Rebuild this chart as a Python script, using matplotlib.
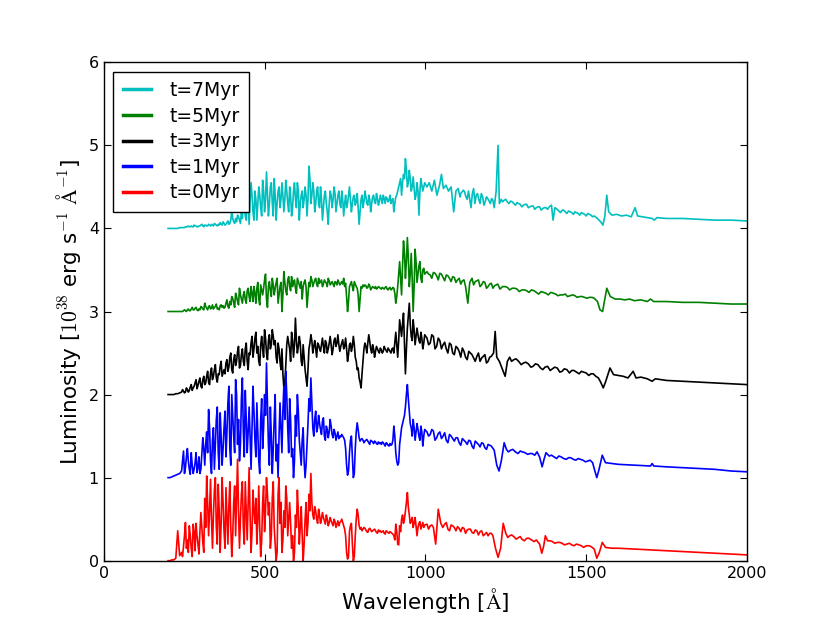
import numpy as np
import matplotlib
matplotlib.use("Agg")
import matplotlib.pyplot as plt

plt.rcParams['font.family'] = ['DejaVu Sans']
plt.rcParams['mathtext.fontset'] = 'cm'
plt.rcParams['xtick.direction'] = 'in'
plt.rcParams['ytick.direction'] = 'in'
plt.rcParams['xtick.top'] = True
plt.rcParams['ytick.right'] = True

# wavelength grids for the noisy far-UV part (Angstrom)
wave_uv = [200, 206, 212, 218, 224, 230, 236, 242, 248, 254,
           260, 266, 272, 278, 284, 290, 296, 302, 308, 314,
           320, 326, 332, 338, 344, 350, 356, 362, 368, 374,
           380, 386, 392, 398, 404, 410, 416, 422, 428, 434,
           440, 446, 452, 458, 464, 470, 476, 482, 488, 494,
           500, 506, 512, 518, 524, 530, 536, 542, 548, 554,
           560, 566, 572, 578, 584, 590, 596, 602, 608, 614,
           620, 626, 632, 638, 644, 650, 656, 662, 668, 674,
           680, 686, 692, 698, 704, 710, 716, 722, 728, 734,
           740, 746, 752, 758, 764, 770, 776, 782, 788, 794,
           800, 806, 812, 818, 824, 830, 836, 842, 848, 854,
           860, 866, 872, 878, 884, 890, 896, 902, 908, 914,
           920, 926, 932, 938, 944, 950, 956, 962, 968, 974,
           980, 986, 992, 998]

wave_mid = [245, 251, 257, 263, 269, 275, 281, 287, 293, 299,
            305, 311, 317, 323, 329, 335, 341, 347, 353, 359,
            365, 371, 377, 383, 389, 395, 401, 407, 413, 419,
            425, 431, 437, 443, 449, 455, 461, 467, 473, 479,
            485, 491, 497, 503, 509, 515, 521, 527, 533, 539,
            545, 551, 557, 563, 569, 575, 581, 587, 593, 599,
            605, 611, 617, 623, 629, 635, 641, 647, 653, 659,
            665, 671, 677, 683, 689, 695, 701, 707, 713, 719,
            725, 731, 737, 743, 749, 755, 761, 767, 773, 779,
            785, 791, 797, 803, 809, 815, 821, 827, 833, 839,
            845, 851, 857, 863, 869, 875, 881, 887, 893, 899,
            905, 911, 917, 923, 929, 935, 941, 947, 953, 959,
            965, 971, 977, 983, 989, 995]

# luminosity [1e38 erg/s/A], t=0 Myr
lum0_uv = [0.00, 0.00, 0.01, 0.01, 0.03, 0.36, 0.06, 0.10, 0.18, 0.46,
           0.25, 0.42, 0.15, 0.44, 0.12, 0.30, 0.08, 0.58, 0.22, 0.75,
           1.02, 0.30, 0.98, 0.15, 0.85, 0.40, 0.92, 0.10, 1.00, 0.35,
           0.88, 0.20, 0.95, 0.05, 0.70, 0.30, 1.22, 0.15, 0.80, 0.40,
           0.95, 0.25, 1.12, 0.10, 0.85, 0.45, 0.20, 0.90, 0.05, 0.70,
           0.35, 1.00, 0.55, 0.15, 0.75, 0.40, 0.00, 0.80, 0.45, 0.10,
           0.60, 0.90, 0.30, 0.70, 0.15, 0.00, 0.55, 0.85, 0.20, 0.65,
           0.00, 0.50, 0.30, 0.80, 1.05, 0.55, 0.65, 0.50, 0.62, 0.45,
           0.58, 0.48, 0.55, 0.42, 0.52, 0.45, 0.50, 0.40, 0.48, 0.46,
           0.50, 0.42, 0.30, 0.02, 0.35, 0.45, 0.00, 0.30, 0.62, 0.42,
           0.40, 0.38, 0.39, 0.35, 0.38, 0.37, 0.36, 0.38, 0.34, 0.37,
           0.36, 0.35, 0.33, 0.36, 0.34, 0.35, 0.33, 0.30, 0.44, 0.20,
           0.42, 0.50, 0.45, 0.60, 0.82, 0.55, 0.48, 0.40, 0.52, 0.30,
           0.45, 0.38, 0.46, 0.43]
lum0_mid = [0.05, 0.30, 0.15, 0.10, 0.30, 0.05, 0.35, 0.45, 0.20, 0.35,
            0.40, 0.10, 0.40, 0.70, 0.60, 0.50, 0.55, 1.00, 0.20, 0.60,
            0.45, 0.70, 0.15, 0.55, 0.65, 0.40, 0.30, 0.90, 0.75, 0.60,
            0.50, 0.95, 0.20, 0.60, 0.70, 0.55, 0.35, 0.60, 0.75, 0.50,
            0.40, 0.25, 0.90, 0.60, 0.80, 0.70, 0.30, 0.95, 0.20, 0.10,
            1.00, 0.70, 0.25, 0.40, 0.75, 0.50, 0.45, 0.30, 0.10, 0.40,
            0.60, 0.40, 0.30, 0.20, 0.70, 0.45, 0.60, 0.70, 0.50, 0.60,
            0.45, 0.55, 0.50, 0.52, 0.44, 0.50, 0.46, 0.48, 0.42, 0.47,
            0.44, 0.42, 0.47, 0.46, 0.38, 0.10, 0.05, 0.42, 0.20, 0.05,
            0.50, 0.55, 0.38, 0.36, 0.40, 0.37, 0.34, 0.39, 0.35, 0.37,
            0.36, 0.33, 0.35, 0.34, 0.36, 0.32, 0.35, 0.33, 0.34, 0.32,
            0.25, 0.35, 0.19, 0.35, 0.55, 0.50, 0.70, 0.65, 0.45, 0.52,
            0.45, 0.42, 0.40, 0.47, 0.42, 0.40]
lum0_tail = [(1005, 0.44), (1015, 0.42), (1025, 0.40), (1032, 0.20), (1040, 0.62),
             (1048, 0.45), (1060, 0.44), (1070, 0.38), (1080, 0.43), (1090, 0.40),
             (1100, 0.41), (1110, 0.35), (1120, 0.39), (1130, 0.37), (1140, 0.38),
             (1150, 0.33), (1160, 0.36), (1170, 0.35), (1180, 0.30), (1190, 0.34),
             (1200, 0.33), (1210, 0.30), (1218, 0.15), (1226, 0.04), (1234, 0.15),
             (1242, 0.45), (1250, 0.33), (1262, 0.30), (1275, 0.29), (1290, 0.28),
             (1300, 0.26), (1315, 0.27), (1330, 0.25), (1345, 0.25), (1355, 0.20),
             (1362, 0.09), (1368, 0.18), (1373, 0.30), (1380, 0.24), (1395, 0.23),
             (1410, 0.22), (1425, 0.21), (1440, 0.20), (1455, 0.19), (1470, 0.20),
             (1485, 0.18), (1500, 0.18), (1515, 0.17), (1525, 0.14), (1533, 0.03),
             (1541, 0.10), (1550, 0.22), (1560, 0.16), (1580, 0.15), (1600, 0.15),
             (1650, 0.14), (1700, 0.13), (1750, 0.12), (1800, 0.11), (1850, 0.10),
             (1900, 0.09), (1950, 0.08), (2000, 0.07),
             (1010, 0.38), (1020, 0.43), (1054, 0.40), (1065, 0.46), (1075, 0.36),
             (1085, 0.42), (1095, 0.36), (1105, 0.39), (1115, 0.40), (1125, 0.33),
             (1135, 0.38), (1145, 0.34), (1155, 0.37), (1165, 0.31), (1175, 0.36),
             (1185, 0.32), (1195, 0.30), (1205, 0.33), (1256, 0.28), (1268, 0.31),
             (1282, 0.26), (1295, 0.29), (1308, 0.24), (1322, 0.27), (1338, 0.23),
             (1388, 0.24), (1402, 0.21), (1418, 0.22), (1432, 0.19), (1448, 0.21),
             (1462, 0.18), (1478, 0.19), (1492, 0.16), (1508, 0.18)]

# t=1 Myr
lum1_uv = [0.00, 0.00, 0.01, 0.02, 0.03, 0.04, 0.05, 0.08, 0.32, 0.12,
           0.35, 0.10, 0.30, 0.05, 0.18, 0.06, 0.25, 0.10, 0.48, 0.15,
           0.55, 0.82, 0.20, 0.45, 0.10, 0.70, 0.30, 0.78, 0.15, 0.60,
           0.25, 0.90, 0.35, 1.00, 0.50, 1.18, 0.40, 0.20, 0.95, 0.55,
           1.05, 0.30, 0.85, 0.10, 1.10, 0.45, 0.90, 0.20, 0.70, 0.35,
           1.00, 1.38, 0.40, 0.85, 0.05, 0.70, 0.20, 0.00, 0.90, 0.30,
           1.10, 1.28, 0.60, 0.95, 0.25, 0.00, 0.75, 1.00, 0.45, 0.15,
           0.60, 0.00, 0.40, 0.95, 1.20, 0.60, 0.70, 0.55, 0.75, 0.58,
           0.68, 0.50, 0.62, 0.48, 0.70, 0.52, 0.58, 0.45, 0.55, 0.50,
           0.52, 0.48, 0.35, 0.03, 0.30, 0.50, 0.00, 0.35, 0.66, 0.48,
           0.46, 0.45, 0.44, 0.46, 0.42, 0.45, 0.43, 0.44, 0.41, 0.43,
           0.42, 0.43, 0.40, 0.42, 0.39, 0.41, 0.40, 0.62, 0.30, 0.15,
           0.40, 0.60, 0.70, 0.85, 1.12, 0.80, 0.60, 0.70, 0.45, 0.65,
           0.50, 0.62, 0.38, 0.58]
lum1_mid = [0.20, 0.05, 0.25, 0.20, 0.04, 0.15, 0.10, 0.30, 0.12, 0.05,
            0.30, 0.35, 0.40, 0.30, 0.60, 0.05, 0.60, 0.40, 0.85, 0.10,
            0.50, 0.35, 0.80, 0.55, 1.10, 0.15, 0.75, 0.30, 1.00, 0.70,
            0.40, 1.20, 0.25, 0.70, 0.55, 0.50, 0.60, 0.80, 0.25, 0.55,
            0.05, 0.95, 0.60, 0.75, 0.90, 0.15, 0.50, 0.35, 1.00, 0.40,
            0.50, 0.60, 0.80, 0.70, 1.00, 0.30, 0.70, 0.35, 0.20, 0.50,
            0.80, 0.30, 0.45, 0.20, 0.15, 0.65, 0.80, 0.90, 0.50, 0.80,
            0.60, 0.65, 0.52, 0.72, 0.45, 0.58, 0.55, 0.62, 0.48, 0.54,
            0.50, 0.47, 0.49, 0.50, 0.45, 0.15, 0.08, 0.45, 0.25, 0.05,
            0.55, 0.58, 0.44, 0.47, 0.42, 0.45, 0.44, 0.40, 0.44, 0.41,
            0.43, 0.40, 0.41, 0.40, 0.42, 0.38, 0.41, 0.38, 0.39, 0.45,
            0.50, 0.20, 0.18, 0.50, 0.65, 0.75, 1.00, 0.95, 0.65, 0.50,
            0.60, 0.55, 0.58, 0.45, 0.55, 0.50]
lum1_tail = [(1005, 0.55), (1015, 0.52), (1025, 0.56), (1035, 0.48), (1045, 0.55),
             (1055, 0.50), (1065, 0.45), (1075, 0.52), (1085, 0.47), (1095, 0.48),
             (1105, 0.42), (1115, 0.47), (1125, 0.43), (1135, 0.45), (1145, 0.38),
             (1155, 0.44), (1165, 0.40), (1175, 0.42), (1185, 0.36), (1195, 0.40),
             (1205, 0.38), (1214, 0.33), (1222, 0.15), (1229, 0.08), (1236, 0.20),
             (1245, 0.42), (1252, 0.34), (1265, 0.33), (1280, 0.31), (1295, 0.32),
             (1310, 0.30), (1325, 0.29), (1340, 0.27), (1347, 0.31), (1355, 0.25),
             (1363, 0.13), (1369, 0.22), (1375, 0.30), (1385, 0.26), (1400, 0.25),
             (1415, 0.26), (1430, 0.23), (1445, 0.24), (1460, 0.22), (1475, 0.23),
             (1490, 0.21), (1505, 0.20), (1520, 0.18), (1527, 0.08), (1533, 0.00),
             (1540, 0.10), (1550, 0.27), (1560, 0.18), (1580, 0.17), (1600, 0.16),
             (1650, 0.15), (1700, 0.14), (1705, 0.17), (1710, 0.14), (1750, 0.13),
             (1800, 0.12), (1850, 0.11), (1900, 0.10), (1950, 0.08), (2000, 0.07),
             (1010, 0.50), (1020, 0.58), (1030, 0.45), (1040, 0.53), (1050, 0.47),
             (1060, 0.54), (1070, 0.42), (1080, 0.50), (1090, 0.44), (1100, 0.48),
             (1110, 0.39), (1120, 0.45), (1130, 0.40), (1140, 0.44), (1150, 0.35),
             (1160, 0.42), (1170, 0.37), (1180, 0.41), (1190, 0.34), (1200, 0.39),
             (1258, 0.31), (1272, 0.34), (1288, 0.29), (1302, 0.31), (1318, 0.28),
             (1332, 0.29), (1392, 0.27), (1408, 0.23), (1422, 0.25), (1438, 0.22),
             (1452, 0.24), (1468, 0.21), (1482, 0.22), (1498, 0.19), (1512, 0.21)]

# t=3 Myr
lum3_uv = [0.00, 0.00, 0.00, 0.00, 0.01, 0.01, 0.02, 0.03, 0.04, 0.03,
           0.06, 0.05, 0.12, 0.08, 0.14, 0.07, 0.16, 0.10, 0.18, 0.12,
           0.22, 0.15, 0.26, 0.18, 0.30, 0.20, 0.25, 0.34, 0.22, 0.30,
           0.38, 0.28, 0.45, 0.30, 0.42, 0.35, 0.52, 0.32, 0.48, 0.40,
           0.55, 0.40, 0.50, 0.62, 0.45, 0.68, 0.50, 0.40, 0.60, 0.55,
           0.78, 0.50, 0.65, 0.55, 0.78, 0.60, 0.45, 0.62, 0.40, 0.55,
           0.08, 0.35, 0.70, 0.55, 0.75, 0.45, 0.92, 0.50, 0.70, 0.40,
           0.60, 0.30, 0.10, 0.55, 0.72, 0.50, 0.65, 0.45, 0.60, 0.52,
           0.68, 0.50, 0.62, 0.55, 0.70, 0.48, 0.65, 0.58, 0.72, 0.52,
           0.62, 0.55, 0.68, 0.40, 0.60, 0.52, 0.70, 0.45, 0.30, 0.20,
           0.08, 0.40, 0.62, 0.50, 0.72, 0.55, 0.60, 0.45, 0.58, 0.52,
           0.56, 0.50, 0.58, 0.53, 0.56, 0.52, 0.55, 0.50, 0.75, 0.45,
           0.90, 0.70, 0.98, 0.25, 0.80, 1.10, 0.70, 0.90, 0.60, 0.80,
           0.65, 0.75, 0.55, 0.72]
lum3_mid = [0.06, 0.02, 0.08, 0.03, 0.09, 0.05, 0.10, 0.18, 0.11, 0.20,
            0.08, 0.22, 0.14, 0.28, 0.12, 0.32, 0.22, 0.36, 0.15, 0.24,
            0.40, 0.26, 0.25, 0.42, 0.33, 0.50, 0.26, 0.48, 0.40, 0.58,
            0.35, 0.55, 0.35, 0.62, 0.30, 0.48, 0.70, 0.55, 0.75, 0.58,
            0.35, 0.70, 0.45, 0.68, 0.42, 0.72, 0.60, 0.70, 0.65, 0.38,
            0.55, 0.30, 0.25, 0.15, 0.60, 0.62, 0.40, 0.65, 0.60, 0.65,
            0.58, 0.62, 0.35, 0.45, 0.20, 0.30, 0.62, 0.65, 0.58, 0.55,
            0.62, 0.55, 0.60, 0.58, 0.65, 0.50, 0.62, 0.60, 0.55, 0.68,
            0.62, 0.60, 0.58, 0.66, 0.58, 0.55, 0.48, 0.62, 0.58, 0.60,
            0.40, 0.32, 0.15, 0.25, 0.55, 0.58, 0.62, 0.64, 0.50, 0.55,
            0.52, 0.55, 0.50, 0.54, 0.52, 0.55, 0.51, 0.54, 0.50, 0.56,
            0.62, 0.60, 0.65, 0.80, 0.85, 0.60, 0.55, 0.95, 0.85, 0.65,
            0.78, 0.70, 0.72, 0.62, 0.68, 0.62]
lum3_tail = [(1005, 0.68), (1015, 0.62), (1025, 0.70), (1035, 0.58), (1045, 0.65),
             (1055, 0.60), (1065, 0.55), (1075, 0.62), (1085, 0.50), (1095, 0.58),
             (1105, 0.52), (1115, 0.56), (1125, 0.45), (1135, 0.52), (1145, 0.48),
             (1155, 0.40), (1165, 0.50), (1175, 0.44), (1185, 0.48), (1195, 0.40),
             (1205, 0.46), (1212, 0.50), (1217, 0.76), (1222, 0.45), (1230, 0.40),
             (1240, 0.30), (1248, 0.22), (1255, 0.40), (1262, 0.45), (1275, 0.42),
             (1290, 0.40), (1305, 0.38), (1320, 0.37), (1335, 0.34), (1350, 0.36),
             (1365, 0.30), (1380, 0.34), (1395, 0.31), (1410, 0.32), (1425, 0.28),
             (1440, 0.30), (1455, 0.29), (1470, 0.27), (1485, 0.28), (1500, 0.26),
             (1515, 0.25), (1530, 0.22), (1545, 0.15), (1553, 0.08), (1560, 0.15),
             (1574, 0.32), (1585, 0.24), (1600, 0.23), (1615, 0.22), (1630, 0.20),
             (1646, 0.28), (1655, 0.20), (1670, 0.21), (1690, 0.19), (1705, 0.16),
             (1715, 0.19), (1750, 0.17), (1800, 0.16), (1850, 0.15), (1900, 0.14),
             (1950, 0.13), (2000, 0.12),
             (1010, 0.60), (1020, 0.72), (1030, 0.55), (1040, 0.68), (1050, 0.55),
             (1060, 0.63), (1070, 0.50), (1080, 0.60), (1090, 0.48), (1100, 0.56),
             (1110, 0.45), (1120, 0.52), (1130, 0.42), (1140, 0.50), (1150, 0.44),
             (1160, 0.46), (1170, 0.40), (1180, 0.46), (1190, 0.38), (1200, 0.45),
             (1268, 0.40), (1282, 0.43), (1298, 0.36), (1312, 0.39), (1328, 0.33),
             (1342, 0.37), (1358, 0.32), (1372, 0.33), (1388, 0.29), (1402, 0.33),
             (1418, 0.27), (1432, 0.31), (1448, 0.26), (1462, 0.29), (1478, 0.25),
             (1492, 0.27), (1508, 0.23), (1522, 0.25), (1538, 0.20)]

# t=5 Myr
lum5_uv = [0.00, 0.00, 0.00, 0.00, 0.00, 0.00, 0.00, 0.00, 0.01, 0.01,
           0.02, 0.01, 0.03, 0.02, 0.04, 0.02, 0.03, 0.06, 0.03, 0.10,
           0.04, 0.06, 0.03, 0.08, 0.05, 0.09, 0.04, 0.07, 0.05, 0.04,
           0.10, 0.06, 0.12, 0.18, 0.10, 0.22, 0.12, 0.28, 0.15, 0.20,
           0.14, 0.25, 0.18, 0.30, 0.12, 0.22, 0.28, 0.15, 0.32, 0.20,
           0.38, 0.15, 0.30, 0.25, 0.40, 0.20, 0.35, 0.10, 0.30, 0.00,
           0.48, 0.25, 0.38, 0.30, 0.42, 0.35, 0.28, 0.40, 0.32, 0.36,
           0.30, 0.38, 0.05, 0.35, 0.42, 0.30, 0.38, 0.33, 0.40, 0.36,
           0.30, 0.38, 0.34, 0.40, 0.32, 0.36, 0.30, 0.35, 0.38, 0.32,
           0.36, 0.40, 0.34, 0.00, 0.30, 0.36, 0.25, 0.33, 0.28, 0.00,
           0.30, 0.32, 0.32, 0.28, 0.33, 0.26, 0.30, 0.28, 0.27, 0.30,
           0.28, 0.29, 0.27, 0.30, 0.26, 0.29, 0.27, 0.28, 0.10, 0.30,
           0.60, 0.20, 0.85, 0.40, 0.89, 0.30, 0.70, 0.00, 0.75, 0.35,
           0.55, 0.40, 0.50, 0.45]
lum5_mid = [0.00, 0.02, 0.00, 0.03, 0.01, 0.05, 0.02, 0.05, 0.01, 0.02,
            0.05, 0.02, 0.06, 0.02, 0.07, 0.04, 0.03, 0.06, 0.03, 0.02,
            0.08, 0.07, 0.05, 0.14, 0.04, 0.08, 0.16, 0.05, 0.18, 0.08,
            0.20, 0.10, 0.24, 0.10, 0.28, 0.12, 0.22, 0.30, 0.10, 0.35,
            0.08, 0.26, 0.28, 0.45, 0.05, 0.36, 0.18, 0.32, 0.28, 0.40,
            0.20, 0.35, 0.20, 0.35, 0.20, 0.42, 0.25, 0.30, 0.38, 0.22,
            0.36, 0.28, 0.15, 0.35, 0.30, 0.20, 0.30, 0.38, 0.34, 0.40,
            0.30, 0.34, 0.38, 0.33, 0.36, 0.30, 0.37, 0.34, 0.33, 0.36,
            0.32, 0.35, 0.34, 0.33, 0.30, 0.18, 0.12, 0.33, 0.30, 0.36,
            0.30, 0.20, 0.15, 0.28, 0.30, 0.31, 0.29, 0.31, 0.28, 0.29,
            0.30, 0.28, 0.29, 0.27, 0.28, 0.29, 0.27, 0.28, 0.26, 0.29,
            0.22, 0.18, 0.45, 0.40, 0.55, 0.70, 0.60, 0.65, 0.45, 0.40,
            0.30, 0.60, 0.45, 0.60, 0.35, 0.52]
lum5_tail = [(1005, 0.48), (1015, 0.44), (1025, 0.47), (1035, 0.43), (1045, 0.46),
             (1055, 0.41), (1065, 0.44), (1075, 0.40), (1085, 0.42), (1095, 0.35),
             (1105, 0.40), (1115, 0.37), (1125, 0.30), (1132, 0.10), (1138, 0.35),
             (1145, 0.40), (1155, 0.36), (1165, 0.38), (1175, 0.32), (1185, 0.35),
             (1195, 0.30), (1205, 0.34), (1215, 0.31), (1225, 0.33), (1240, 0.30),
             (1255, 0.29), (1270, 0.28), (1285, 0.27), (1300, 0.26), (1315, 0.25),
             (1330, 0.26), (1345, 0.23), (1360, 0.24), (1375, 0.22), (1390, 0.23),
             (1405, 0.21), (1420, 0.20), (1435, 0.21), (1450, 0.19), (1465, 0.19),
             (1480, 0.18), (1495, 0.17), (1510, 0.17), (1525, 0.16), (1535, 0.12),
             (1543, 0.02), (1551, 0.00), (1558, 0.15), (1564, 0.28), (1575, 0.18),
             (1590, 0.15), (1605, 0.15), (1620, 0.14), (1635, 0.15), (1650, 0.13),
             (1670, 0.14), (1690, 0.12), (1700, 0.15), (1710, 0.12), (1750, 0.12),
             (1800, 0.11), (1850, 0.11), (1900, 0.10), (1950, 0.09), (2000, 0.09),
             (1010, 0.45), (1020, 0.40), (1030, 0.46), (1040, 0.38), (1050, 0.45),
             (1060, 0.37), (1070, 0.43), (1080, 0.36), (1090, 0.41), (1100, 0.38),
             (1110, 0.33), (1120, 0.38), (1150, 0.32), (1160, 0.37), (1170, 0.30),
             (1180, 0.36), (1190, 0.28), (1200, 0.33), (1210, 0.28), (1220, 0.32),
             (1232, 0.27), (1248, 0.30), (1262, 0.26), (1278, 0.28), (1292, 0.24),
             (1308, 0.26), (1322, 0.23), (1338, 0.25), (1352, 0.21), (1368, 0.23),
             (1382, 0.20), (1398, 0.22), (1412, 0.19), (1428, 0.20), (1442, 0.18),
             (1458, 0.20), (1472, 0.17), (1488, 0.18), (1502, 0.16), (1518, 0.17)]

# t=7 Myr
lum7_uv = [0.00, 0.00, 0.00, 0.00, 0.00, 0.00, 0.01, 0.01, 0.01, 0.02,
           0.02, 0.02, 0.03, 0.02, 0.03, 0.02, 0.03, 0.04, 0.03, 0.04,
           0.03, 0.05, 0.03, 0.04, 0.06, 0.04, 0.05, 0.07, 0.04, 0.06,
           0.05, 0.09, 0.06, 0.22, 0.08, 0.12, 0.16, 0.10, 0.20, 0.35,
           0.15, 0.42, 0.05, 0.55, 0.20, 0.45, 0.10, 0.50, 0.25, 0.58,
           0.20, 0.68, 0.15, 0.50, 0.30, 0.60, 0.10, 0.45, 0.25, 0.55,
           0.20, 0.58, 0.30, 0.50, 0.15, 0.45, 0.35, 0.55, 0.10, 0.40,
           0.25, 0.50, 0.15, 0.75, 0.30, 0.55, 0.20, 0.45, 0.30, 0.50,
           0.10, 0.40, 0.30, 0.05, 0.45, 0.25, 0.50, 0.20, 0.40, 0.30,
           0.45, 0.15, 0.40, 0.30, 0.50, 0.20, 0.38, 0.28, 0.42, 0.05,
           0.35, 0.25, 0.45, 0.30, 0.40, 0.20, 0.38, 0.32, 0.42, 0.28,
           0.40, 0.30, 0.36, 0.38, 0.32, 0.40, 0.34, 0.20, 0.38, 0.45,
           0.55, 0.40, 0.65, 0.84, 0.50, 0.70, 0.45, 0.62, 0.35, 0.55,
           0.16, 0.60, 0.45, 0.55]
lum7_mid = [0.01, 0.01, 0.02, 0.03, 0.02, 0.02, 0.04, 0.03, 0.02, 0.03,
            0.05, 0.02, 0.04, 0.03, 0.04, 0.05, 0.03, 0.05, 0.03, 0.04,
            0.05, 0.08, 0.04, 0.07, 0.05, 0.10, 0.12, 0.06, 0.08, 0.14,
            0.06, 0.12, 0.28, 0.10, 0.30, 0.35, 0.40, 0.10, 0.35, 0.30,
            0.40, 0.15, 0.45, 0.35, 0.40, 0.30, 0.55, 0.15, 0.40, 0.30,
            0.50, 0.35, 0.40, 0.35, 0.45, 0.20, 0.40, 0.25, 0.55, 0.25,
            0.45, 0.30, 0.45, 0.35, 0.40, 0.35, 0.60, 0.40, 0.45, 0.30,
            0.50, 0.25, 0.35, 0.25, 0.45, 0.20, 0.30, 0.40, 0.35, 0.42,
            0.30, 0.45, 0.25, 0.35, 0.30, 0.25, 0.40, 0.35, 0.30, 0.40,
            0.32, 0.25, 0.20, 0.40, 0.32, 0.38, 0.28, 0.35, 0.30, 0.40,
            0.30, 0.36, 0.33, 0.35, 0.40, 0.30, 0.36, 0.34, 0.30, 0.36,
            0.30, 0.40, 0.50, 0.60, 0.55, 0.60, 0.70, 0.55, 0.60, 0.50,
            0.48, 0.40, 0.45, 0.45, 0.52, 0.50]
lum7_tail = [(1005, 0.50), (1012, 0.55), (1020, 0.45), (1028, 0.58), (1036, 0.40),
             (1044, 0.52), (1050, 0.65), (1056, 0.48), (1064, 0.52), (1072, 0.45),
             (1080, 0.50), (1088, 0.20), (1095, 0.45), (1102, 0.48), (1110, 0.42),
             (1118, 0.46), (1126, 0.38), (1134, 0.45), (1142, 0.25), (1150, 0.48),
             (1158, 0.40), (1166, 0.35), (1174, 0.42), (1182, 0.28), (1190, 0.38),
             (1198, 0.33), (1206, 0.36), (1214, 0.25), (1220, 0.45), (1226, 1.00),
             (1230, 0.30), (1236, 0.35), (1245, 0.34), (1255, 0.32), (1265, 0.33),
             (1275, 0.30), (1285, 0.31), (1295, 0.29), (1305, 0.28), (1315, 0.29),
             (1325, 0.26), (1335, 0.27), (1345, 0.25), (1355, 0.26), (1365, 0.24),
             (1375, 0.25), (1385, 0.26), (1392, 0.28), (1397, 0.10), (1403, 0.25),
             (1415, 0.21), (1425, 0.22), (1435, 0.20), (1445, 0.21), (1455, 0.19),
             (1465, 0.20), (1475, 0.18), (1485, 0.19), (1495, 0.17), (1505, 0.18),
             (1515, 0.16), (1525, 0.15), (1535, 0.12), (1545, 0.08), (1552, 0.04),
             (1558, 0.15), (1564, 0.40), (1570, 0.20), (1580, 0.16), (1595, 0.17),
             (1610, 0.15), (1625, 0.16), (1640, 0.14), (1652, 0.25), (1660, 0.15),
             (1675, 0.14), (1690, 0.13), (1705, 0.12), (1712, 0.10), (1720, 0.13),
             (1750, 0.12), (1800, 0.12), (1850, 0.11), (1900, 0.10), (1950, 0.10),
             (2000, 0.09),
             (1108, 0.38), (1122, 0.44), (1130, 0.35), (1146, 0.42), (1154, 0.30),
             (1162, 0.42), (1170, 0.30), (1178, 0.38), (1186, 0.32), (1194, 0.36),
             (1202, 0.30), (1210, 0.34), (1240, 0.32), (1250, 0.35), (1260, 0.30),
             (1270, 0.32), (1280, 0.28), (1290, 0.30), (1300, 0.26), (1310, 0.29),
             (1320, 0.25), (1330, 0.27), (1340, 0.23), (1350, 0.26), (1360, 0.22),
             (1370, 0.25), (1380, 0.23), (1410, 0.23), (1420, 0.19), (1430, 0.22),
             (1440, 0.18), (1450, 0.20), (1460, 0.17), (1470, 0.19), (1480, 0.16),
             (1490, 0.18), (1500, 0.15), (1510, 0.17), (1520, 0.14)]

labels = ['t=7Myr', 't=5Myr', 't=3Myr', 't=1Myr', 't=0Myr']
offsets = [4, 3, 2, 1, 0]
colors = ['c', 'g', 'k', 'b', 'r']
uv_parts = [lum7_uv, lum5_uv, lum3_uv, lum1_uv, lum0_uv]
mid_parts = [lum7_mid, lum5_mid, lum3_mid, lum1_mid, lum0_mid]
tail_parts = [lum7_tail, lum5_tail, lum3_tail, lum1_tail, lum0_tail]

fig = plt.figure(figsize=(8.3, 6.23), dpi=100)
ax = fig.add_axes([0.125, 0.1, 0.775, 0.8])

for lab, off, col, uv, mid, tail in zip(labels, offsets, colors,
                                        uv_parts, mid_parts, tail_parts):
    tw, tl = zip(*tail)
    wave = np.concatenate([wave_uv, wave_mid, tw])
    lum = np.concatenate([uv, mid, tl])
    order = np.argsort(wave, kind='stable')
    ax.plot(wave[order], lum[order] + off, color=col, lw=1.2, label=lab)

ax.set_xlim(0, 2000)
ax.set_ylim(0, 6)
ax.set_xticks([0, 500, 1000, 1500, 2000])
ax.tick_params(labelsize=11.5, length=5, width=0.8)
ax.set_xlabel(r'Wavelength [$\mathrm{\AA}$]', fontsize=15.5)
ax.set_ylabel(r'Luminosity [$10^{38}$ erg s$^{-1}$ $\mathrm{\AA}^{-1}$]', fontsize=15.5)
for sp in ax.spines.values():
    sp.set_linewidth(1.0)

leg = ax.legend(loc='upper left', fontsize=13.5, fancybox=False, framealpha=1,
                edgecolor='black', handlelength=1.5, handletextpad=1.0,
                labelspacing=0.35, borderpad=0.5, borderaxespad=0.5)
leg.get_frame().set_linewidth(1.0)
for line in leg.get_lines():
    line.set_linewidth(2.5)

fig.savefig('out.png', dpi=100, facecolor='white')
